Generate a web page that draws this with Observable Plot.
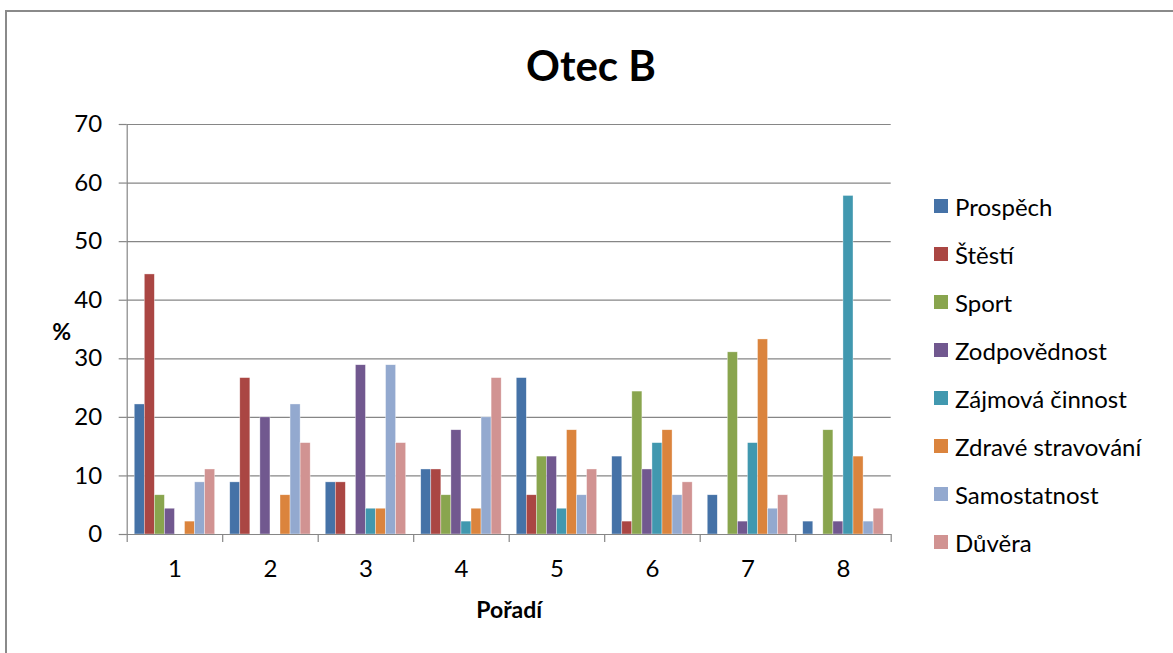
<!DOCTYPE html>
<html>
<head>
<meta charset="utf-8">
<script src="https://cdn.jsdelivr.net/npm/d3@7"></script>
<script src="https://cdn.jsdelivr.net/npm/@observablehq/plot@0.6"></script>
<style>
  html, body { margin: 0; padding: 0; background: #fff; overflow: hidden; width: 1173px; height: 653px; }
  body { position: relative; font-family: Lato, "Open Sans", sans-serif; }
  #border { position: absolute; left: 5px; top: 10px; width: 1400px; height: 900px;
            border-top: 2px solid #8a8a8a; border-left: 2px solid #8a8a8a; }
  #title { position: absolute; left: 591px; top: 65px; transform: translate(-50%, -50%);
           font-size: 42px; font-weight: bold; color: #000; white-space: nowrap; }
  #chart { position: absolute; left: 0; top: 0; }
  #legend { position: absolute; left: 934px; top: 182px; }
  .item { display: flex; align-items: center; height: 48px; font-size: 24px; color: #000; white-space: nowrap; }
  .sw { width: 14px; height: 14px; margin-right: 7px; flex: none; }
</style>
</head>
<body>
<div id="border"></div>
<div id="title">Otec B</div>
<div id="chart"></div>
<div id="legend"></div>
<script>
const categories = ["1", "2", "3", "4", "5", "6", "7", "8"];
const seriesNames = ["Prospěch", "Štěstí", "Sport", "Zodpovědnost", "Zájmová činnost", "Zdravé stravování", "Samostatnost", "Důvěra"];
const prospech      = [22.2,  8.9,  8.9, 11.1, 26.7, 13.3,  6.7,  2.2];
const stesti        = [44.4, 26.7,  8.9, 11.1,  6.7,  2.2,  0.0,  0.0];
const sport         = [ 6.7,  0.0,  0.0,  6.7, 13.3, 24.4, 31.1, 17.8];
const zodpovednost  = [ 4.4, 20.0, 28.9, 17.8, 13.3, 11.1,  2.2,  2.2];
const zajmova       = [ 0.0,  0.0,  4.4,  2.2,  4.4, 15.6, 15.6, 57.8];
const zdrave        = [ 2.2,  6.7,  4.4,  4.4, 17.8, 17.8, 33.3, 13.3];
const samostatnost  = [ 8.9, 22.2, 28.9, 20.0,  6.7,  6.7,  4.4,  2.2];
const duvera        = [11.1, 15.6, 15.6, 26.7, 11.1,  8.9,  6.7,  4.4];
const seriesValues = [prospech, stesti, sport, zodpovednost, zajmova, zdrave, samostatnost, duvera];
const colors = ["#4572A7", "#AA4643", "#89A54E", "#71588F", "#4198AF", "#DB843D", "#93A9CF", "#D19392"];
const yTicks = [0, 10, 20, 30, 40, 50, 60, 70];

// Excel-like clustered layout: gap width 150% => 1.5 bar widths shared per category
const nS = seriesNames.length;
const slots = nS + 1.5;
const table = [];
categories.forEach((c, g) => {
  seriesNames.forEach((s, i) => {
    const x1 = (g + 1) - 0.5 + (0.75 + i) / slots;
    table.push({cat: c, series: s, value: seriesValues[i][g], x1, x2: x1 + 1 / slots});
  });
});
const catPos = categories.map((c, g) => g + 1);
const boundaries = d3.range(0, categories.length + 1).map(i => i + 0.5);

const gray = "#868686";
const plot = Plot.plot({
  width: 1173,
  height: 653,
  marginLeft: 126.7,
  marginRight: 282.3,
  marginTop: 124,
  marginBottom: 119,
  x: {domain: [0.5, categories.length + 0.5], axis: null},
  y: {domain: [0, 70], axis: null},
  color: {domain: seriesNames, range: colors},
  style: {fontFamily: 'Lato, "Open Sans", sans-serif', fontSize: "24px", color: "#000", background: "transparent", overflow: "visible"},
  marks: [
    Plot.gridY(yTicks, {stroke: gray, strokeOpacity: 1, strokeWidth: 1.2}),
    Plot.axisY(yTicks, {tickSize: 8, tickPadding: 17, stroke: gray, strokeWidth: 1.2, fontSize: 24, fill: "#000", label: null}),
    Plot.axisX(boundaries, {tickSize: 8, tickFormat: () => "", stroke: gray, strokeWidth: 1.2, label: null}),
    Plot.axisX(catPos, {tickSize: 0, tickPadding: 25, tickFormat: d => categories[d - 1], fontSize: 24, fill: "#000", label: null}),
    Plot.rectY(table, {x1: "x1", x2: "x2", y: "value", fill: "series", stroke: "#fff", strokeOpacity: 0.6, strokeWidth: 0.6}),
    Plot.frame({anchor: "left", stroke: gray, strokeWidth: 1.2}),
    Plot.ruleY([0], {stroke: gray, strokeWidth: 1.2}),
    Plot.text(["%"], {frameAnchor: "left", lineAnchor: "middle", dx: -75, dy: 3, fontWeight: "bold", fontSize: 23, fill: "#000"}),
    Plot.text(["Pořadí"], {frameAnchor: "bottom", lineAnchor: "middle", dy: 76, fontWeight: "bold", fontSize: 23, fill: "#000"})
  ]
});
document.getElementById("chart").appendChild(plot);

const legend = document.getElementById("legend");
seriesNames.forEach((s, i) => {
  const it = document.createElement("div");
  it.className = "item";
  const sw = document.createElement("span");
  sw.className = "sw";
  sw.style.background = colors[i];
  const t = document.createElement("span");
  t.textContent = s;
  it.appendChild(sw);
  it.appendChild(t);
  legend.appendChild(it);
});
</script>
</body>
</html>
